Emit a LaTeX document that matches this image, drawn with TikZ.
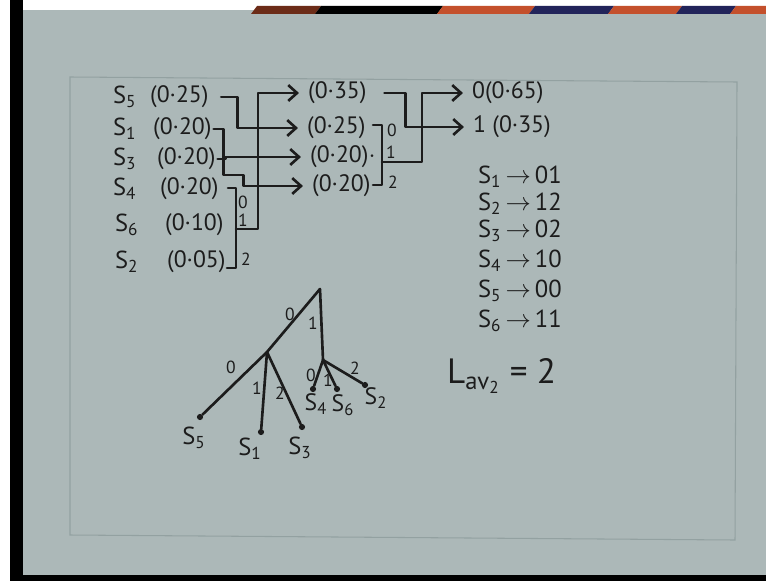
\documentclass[tikz,border=0pt]{standalone}
\usepackage{fontspec}
\setmainfont{PT Sans}
\usetikzlibrary{arrows.meta}
\definecolor{cPaper}{HTML}{ACB8B8}
\definecolor{cInk}{HTML}{1C1C1C}
\definecolor{cFrame}{HTML}{93A1A1}
\definecolor{cRust}{HTML}{C4502C}
\definecolor{cNavy}{HTML}{22245A}
\newcommand{\Ssym}[1]{S\textsubscript{#1}}
\tikzset{
    ink/.style={draw=cInk, line width=1.5pt, line cap=round, line join=round},
    arr/.style={ink, -{Straight Barb[length=5pt, width=9pt]}, shorten >=4pt},
    sym/.style={anchor=west, text=cInk, inner sep=1pt, font=\fontsize{14}{16}\selectfont},
    prob/.style={sym, font=\fontsize{13.5}{15}\selectfont},
    bit/.style={text=cInk, inner sep=0.5pt, font=\fontsize{10}{11}\selectfont},
    leaf/.style={circle, fill=cInk, inner sep=0pt, minimum size=3.5pt},
}

\begin{document}
\begin{tikzpicture}[x=0.02cm, y=-0.02cm]
\useasboundingbox (0,0) rectangle (766,581);

% photo edges
\fill[white] (0,0) rectangle (766,581);
\fill[cPaper] (23,10) rectangle (766,575);
\fill[black] (10,0) rectangle (23,581);
\fill[black] (10,575) rectangle (766,581);
\foreach \a/\b/\c in {254/318/cRust!55!black, 318/440/black, 440/532/cRust,
                      532/611/cNavy, 611/679/cRust, 679/733/cNavy, 733/770/cRust}
  \fill[\c] (\a+3,6) -- (\b+3,6) -- (\b-3,14) -- (\a-3,14) -- cycle;
\draw[cFrame, line width=0.6pt] (70,77) -- (737,82) -- (735,540) -- (70,535) -- cycle;

% source symbols
\node[sym] (s5) at (111,97) {\Ssym{5}};
\node[sym] (s1) at (111,129) {\Ssym{1}};
\node[sym] (s3) at (111,159) {\Ssym{3}};
\node[sym] (s4) at (111,189) {\Ssym{4}};
\node[sym] (s6) at (113,225) {\Ssym{6}};
\node[sym] (s2) at (113,262) {\Ssym{2}};
\node[prob] (p5) at (148,97) {(0·25)};
\node[prob] (p1) at (151,129) {(0·20)};
\node[prob] (p3) at (155,159) {(0·20)};
\node[prob] (p4) at (158,189) {(0·20)};
\node[prob] (p6) at (163,225) {(0·10)};
\node[prob] (p2) at (165,262) {(0·05)};

% first reduction
\node[prob] (q35) at (306,93) {(0·35)};
\node[prob] (q25) at (305,128) {(0·25)};
\node[prob] (q20a) at (308,157) {(0·20)$\cdot$};
\node[prob] (q20b) at (310,186) {(0·20)};

\draw[arr, shorten <=6pt] (p5.east) -- ++(27,0) |- (q25.west);
\draw[arr] (p1.east) -- ++(10,0) -- ++(0,46) -- ++(20,0) |- (q20b.west);
\draw[arr] (p3.east) -- ++(8,0) |- (q20a.west);

\draw[ink] (228,188) -- (236,188) -- (236,268) -- (227,268);
\node[bit] (a0) at (243,202) {0};
\node[bit] (a1) at (243,220) {1};
\node[bit] (a2) at (246,259) {2};
\coordinate (brA) at (236,229);
\draw[arr] (brA) -- ++(22,0) |- (q35.west);

% second reduction
\node[prob] (r65) at (470,93) {0(0·65)};
\node[prob] (r35) at (471,127) {1 (0·35)};

\draw[ink] (373,125) -- (382,125) -- (382,185) -- (373,185);
\node[bit] (b0) at (392,130) {0};
\node[bit] (b1) at (391,152) {1};
\node[bit] (b2) at (393,182) {2};
\coordinate (brB) at (382,162);
\draw[arr] (brB) -- ++(40,0) |- (r65.west);
\draw[arr, shorten <=9pt] (q35.east) -- ++(37,0) |- (r35.west);

% code words
\foreach \s/\c/\y in {1/01/177, 2/12/204, 3/02/231, 4/10/261, 5/00/291, 6/11/321}
  \node[sym] (c\s) at (476,\y) {\Ssym{\s}\,$\rightarrow$\,\c};

\node[sym, font=\fontsize{20}{22}\selectfont] (lav) at (445,376)
     {L\textsubscript{av\textsubscript{2}} = 2};

% code tree
\coordinate (root) at (320,289);
\coordinate (n0) at (267,352);
\coordinate (n1) at (323,360);
\node[leaf] (l5) at (200,417) {};
\node[leaf] (l1) at (261,432) {};
\node[leaf] (l3) at (302,427) {};
\node[leaf] (l4) at (313,389) {};
\node[leaf] (l6) at (337,389) {};
\node[leaf] (l2) at (365,385) {};
\draw[ink] (root) -- (n0) -- (l5);
\draw[ink] (root) -- (n1);
\draw[ink] (n0) -- (l1);
\draw[ink] (n0) -- (l3);
\draw[ink] (n1) -- (l4);
\draw[ink] (n1) -- (l6);
\draw[ink] (n1) -- (l2);

\node[bit] (e0) at (290,314) {0};
\node[bit] (e1) at (313,323) {1};
\node[bit] (e00) at (231,367) {0};
\node[bit] (e01) at (257,388) {1};
\node[bit] (e02) at (280,393) {2};
\node[bit] (e10) at (311,375) {0};
\node[bit] (e11) at (328,380) {1};
\node[bit] (e12) at (355,368) {2};

\node[sym, anchor=center] (t5) at (194,438) {\Ssym{5}};
\node[sym, anchor=center] (t1) at (250,449) {\Ssym{1}};
\node[sym, anchor=center] (t3) at (300,448) {\Ssym{3}};
\node[prob, anchor=center] (t4) at (316,404) {\Ssym{4}};
\node[prob, anchor=center] (t6) at (343,405) {\Ssym{6}};
\node[prob, anchor=center] (t2) at (376,398) {\Ssym{2}};

\end{tikzpicture}
\end{document}
